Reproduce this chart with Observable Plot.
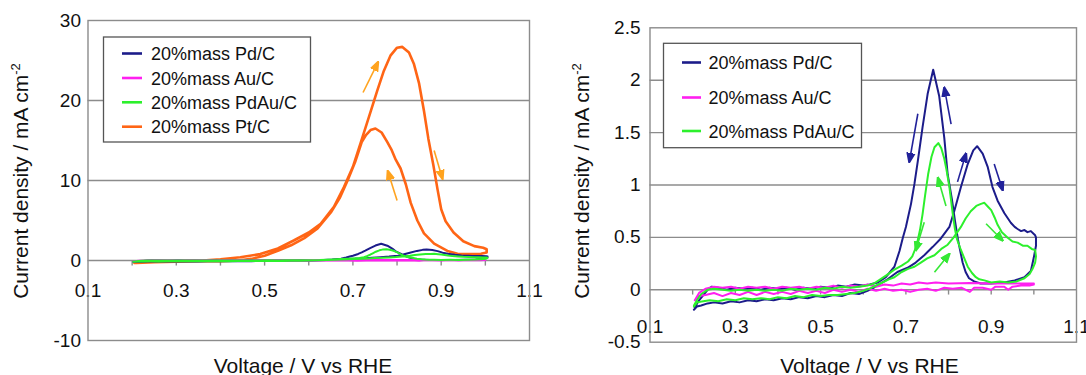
<!DOCTYPE html>
<html><head><meta charset="utf-8">
<script src="https://cdn.jsdelivr.net/npm/d3@7"></script>
<script src="https://cdn.jsdelivr.net/npm/@observablehq/plot@0.6"></script>
<style>
html,body{margin:0;padding:0;background:#fff;}
#wrap{position:relative;width:1086px;height:375px;display:flex;}
#wrap svg{display:block;}
</style></head><body><div id="wrap"></div>
<script>
// ---------- data ----------
const seriesNames = ["20%mass Pd/C", "20%mass Au/C", "20%mass PdAu/C", "20%mass Pt/C"];
const xTickValues = [0.1, 0.3, 0.5, 0.7, 0.9, 1.1];
const xTickLabels = ["0.1", "0.3", "0.5", "0.7", "0.9", "1.1"];
const xMinorTicks = [0.2, 0.3, 0.4, 0.5, 0.6, 0.7, 0.8, 0.9, 1.0];
const yTicksLeft = [-10, 0, 10, 20, 30];
const yLabelsLeft = ["-10", "0", "10", "20", "30"];
const yTicksRight = [-0.5, 0, 0.5, 1, 1.5, 2, 2.5];
const yLabelsRight = ["-0.5", "0", "0.5", "1", "1.5", "2", "2.5"];

// [voltage V, current density mA cm-2], forward scan then reverse scan
const pdC = [[0.203,-0.19],[0.21,-0.16],[0.22,-0.15],[0.235,-0.13],[0.25,-0.12],[0.27,-0.13],[0.29,-0.11],[0.31,-0.12],[0.33,-0.1],[0.35,-0.11],[0.37,-0.09],[0.39,-0.1],[0.41,-0.08],[0.43,-0.09],[0.45,-0.07],[0.47,-0.08],[0.49,-0.06],[0.51,-0.07],[0.53,-0.05],[0.55,-0.06],[0.57,-0.03],[0.59,-0.04],[0.61,-0.01],[0.625,0.02],[0.64,0.06],[0.657,0.1],[0.68,0.17],[0.704,0.21],[0.723,0.26],[0.743,0.33],[0.763,0.41],[0.782,0.49],[0.802,0.6],[0.814,0.76],[0.829,0.98],[0.845,1.2],[0.858,1.33],[0.867,1.37],[0.88,1.3],[0.892,1.17],[0.903,0.98],[0.915,0.85],[0.931,0.73],[0.946,0.64],[0.955,0.6],[0.962,0.58],[0.97,0.56],[0.978,0.57],[0.985,0.55],[0.993,0.56],[1.003,0.52],
  [1.005,0.5],[1.005,0.42],[1.0,0.31],[0.993,0.18],[0.978,0.12],[0.955,0.09],[0.93,0.07],[0.9,0.06],[0.875,0.06],[0.86,0.08],[0.848,0.11],[0.84,0.17],[0.833,0.26],[0.822,0.48],[0.815,0.66],[0.808,0.86],[0.798,1.1],[0.79,1.45],[0.778,1.85],[0.764,2.1],[0.751,1.87],[0.739,1.55],[0.728,1.23],[0.72,1.01],[0.712,0.82],[0.70,0.6],[0.693,0.5],[0.685,0.37],[0.673,0.22],[0.653,0.12],[0.634,0.07],[0.615,0.05],[0.6,0.04],[0.58,0.05],[0.56,0.03],[0.54,0.04],[0.52,0.02],[0.5,0.03],[0.48,0.01],[0.46,0.02],[0.44,0.0],[0.42,0.02],[0.4,0.01],[0.38,0.02],[0.36,0.0],[0.34,0.02],[0.32,0.01],[0.3,0.02],[0.28,0.0],[0.26,0.02],[0.245,0.03],[0.235,0.0],[0.225,-0.05],[0.215,-0.1],[0.205,-0.17]];

const auC = [[0.205,-0.1],[0.215,-0.06],[0.23,-0.05],[0.25,-0.03],[0.27,-0.06],[0.29,-0.03],[0.31,-0.05],[0.33,-0.02],[0.35,-0.05],[0.37,-0.02],[0.39,-0.04],[0.41,-0.02],[0.43,-0.04],[0.45,-0.01],[0.47,-0.03],[0.49,-0.01],[0.51,-0.03],[0.53,0.0],[0.55,-0.02],[0.57,0.0],[0.59,-0.02],[0.61,0.01],[0.63,-0.01],[0.65,0.01],[0.67,-0.01],[0.69,0.0],[0.71,-0.02],[0.73,0.0],[0.75,0.01],[0.77,-0.01],[0.79,0.02],[0.81,0.01],[0.83,0.02],[0.85,-0.02],[0.86,0.02],[0.88,0.02],[0.9,0.0],[0.91,0.03],[0.93,0.03],[0.94,0.0],[0.95,0.03],[0.97,0.04],[0.99,0.04],[1.0,0.05],
  [1.0,0.06],[0.95,0.06],[0.9,0.06],[0.85,0.065],[0.8,0.06],[0.77,0.07],[0.75,0.06],[0.73,0.07],[0.71,0.05],[0.69,0.06],[0.67,0.04],[0.65,0.05],[0.63,0.03],[0.61,0.05],[0.59,0.03],[0.57,0.04],[0.55,0.02],[0.53,0.04],[0.51,0.02],[0.49,0.03],[0.47,0.01],[0.45,0.03],[0.43,0.02],[0.41,0.03],[0.39,0.01],[0.37,0.03],[0.35,0.02],[0.33,0.03],[0.31,0.01],[0.29,0.03],[0.27,0.02],[0.25,0.03],[0.23,0.01],[0.215,-0.03],[0.205,-0.1]];

const pdAuC = [[0.203,-0.16],[0.21,-0.12],[0.225,-0.11],[0.24,-0.1],[0.26,-0.11],[0.28,-0.09],[0.3,-0.1],[0.32,-0.08],[0.34,-0.09],[0.36,-0.08],[0.38,-0.09],[0.4,-0.07],[0.42,-0.08],[0.44,-0.06],[0.46,-0.07],[0.48,-0.05],[0.5,-0.06],[0.52,-0.05],[0.54,-0.05],[0.56,-0.04],[0.58,-0.03],[0.6,-0.01],[0.62,0.02],[0.64,0.06],[0.66,0.1],[0.673,0.12],[0.69,0.17],[0.705,0.2],[0.72,0.22],[0.735,0.26],[0.75,0.3],[0.767,0.33],[0.783,0.39],[0.798,0.43],[0.812,0.5],[0.829,0.6],[0.84,0.68],[0.852,0.75],[0.865,0.8],[0.876,0.82],[0.884,0.83],[0.893,0.79],[0.9,0.76],[0.908,0.69],[0.915,0.62],[0.925,0.55],[0.938,0.5],[0.95,0.46],[0.962,0.45],[0.975,0.42],[0.985,0.42],[0.995,0.39],[1.003,0.38],
  [1.005,0.32],[1.003,0.26],[0.997,0.2],[0.99,0.15],[0.978,0.11],[0.96,0.08],[0.94,0.07],[0.92,0.08],[0.9,0.07],[0.884,0.09],[0.872,0.1],[0.864,0.12],[0.855,0.16],[0.845,0.22],[0.837,0.3],[0.829,0.38],[0.82,0.48],[0.815,0.58],[0.81,0.72],[0.802,0.98],[0.795,1.15],[0.79,1.25],[0.783,1.35],[0.776,1.4],[0.767,1.36],[0.76,1.27],[0.752,1.1],[0.745,0.9],[0.739,0.72],[0.733,0.57],[0.725,0.42],[0.715,0.32],[0.705,0.27],[0.69,0.23],[0.672,0.19],[0.655,0.14],[0.64,0.1],[0.625,0.06],[0.61,0.04],[0.59,0.03],[0.57,0.02],[0.55,0.03],[0.53,0.01],[0.51,0.02],[0.49,0.0],[0.47,0.01],[0.45,0.0],[0.43,0.01],[0.41,-0.01],[0.39,0.0],[0.37,-0.01],[0.35,0.0],[0.33,-0.01],[0.31,0.0],[0.29,-0.01],[0.27,0.0],[0.25,0.01],[0.235,0.0],[0.22,-0.04],[0.21,-0.1],[0.203,-0.15]];

const ptC = [[0.205,-0.3],[0.22,-0.25],[0.25,-0.2],[0.28,-0.15],[0.3,-0.1],[0.33,-0.05],[0.36,0.0],[0.4,0.15],[0.445,0.4],[0.49,0.8],[0.53,1.5],[0.566,2.5],[0.6,3.5],[0.627,4.6],[0.657,6.7],[0.68,9.2],[0.70,11.7],[0.717,14.6],[0.736,17.9],[0.755,21.2],[0.77,23.7],[0.785,25.6],[0.80,26.6],[0.812,26.7],[0.827,26.0],[0.838,24.6],[0.85,22.1],[0.861,18.7],[0.871,15.2],[0.882,12.0],[0.892,8.8],[0.90,6.4],[0.91,4.9],[0.928,3.5],[0.95,2.4],[0.975,1.8],[0.995,1.6],[1.003,1.4],
  [1.003,1.0],[0.99,0.85],[0.967,0.8],[0.937,0.85],[0.914,1.2],[0.884,2.1],[0.861,3.4],[0.846,5.0],[0.831,7.2],[0.82,9.5],[0.808,11.5],[0.797,12.6],[0.787,13.9],[0.778,14.8],[0.765,16.0],[0.751,16.5],[0.74,16.3],[0.73,15.7],[0.72,14.8],[0.705,12.3],[0.688,10],[0.67,7.8],[0.65,6.0],[0.62,4.0],[0.59,2.8],[0.56,1.9],[0.53,1.2],[0.5,0.6],[0.47,0.2],[0.44,0.0],[0.4,-0.1],[0.35,-0.1],[0.3,-0.15],[0.25,-0.2],[0.21,-0.3]];

// scan-direction arrows [x1, y1, x2, y2]
const arrowsPt = [[0.723,21.0,0.757,24.8],[0.80,7.5,0.779,11.2],[0.884,13.75,0.903,10.2]];
const arrowsPd = [[0.728,1.68,0.708,1.22],[0.806,1.58,0.79,1.93],[0.821,1.03,0.841,1.30],[0.907,1.2,0.927,0.95]];
const arrowsPdAu = [[0.794,0.80,0.775,1.07],[0.743,0.645,0.723,0.375],[0.767,0.168,0.802,0.343],[0.888,0.63,0.927,0.47]];

// ---------- style ----------
const C_PD = "#1c1c8a", C_AU = "#ff1ff0", C_PDAU = "#2cf02c", C_PT = "#ff6515";
const C_PT_ARROW = "#ffa31f", C_PD_ARROW = "#22229a", C_PDAU_ARROW = "#35e835";
const GRID = "#8c8c8c", TEXT = "#111";
const FONT = "'Liberation Sans', Arial, Helvetica, sans-serif";

function triMarker(color) {
  const ns = "http://www.w3.org/2000/svg";
  const m = document.createElementNS(ns, "marker");
  m.setAttribute("viewBox", "-5 -5 10 10");
  m.setAttribute("markerUnits", "userSpaceOnUse");
  m.setAttribute("markerWidth", "10");
  m.setAttribute("markerHeight", "10");
  m.setAttribute("refX", "4");
  m.setAttribute("refY", "0");
  m.setAttribute("orient", "auto");
  const p = document.createElementNS(ns, "path");
  p.setAttribute("d", "M-5,-3.8L5,0L-5,3.8Z");
  p.setAttribute("fill", color);
  m.appendChild(p);
  return m;
}

function arrowMark(data, color) {
  const opts = {x1: d => d[0], y1: d => d[1], x2: d => d[2], y2: d => d[3], stroke: color, strokeWidth: 1.6};
  try { return Plot.link(data, {...opts, markerEnd: triMarker}); }
  catch (e) { return Plot.arrow(data, {...opts, headLength: 9}); }
}

function panel(cfg) {
  const marks = [
    Plot.ruleY(cfg.grid, {stroke: GRID, strokeWidth: 1.4}),
    Plot.ruleX(xMinorTicks, {y1: 0, y2: -cfg.tickLen, stroke: GRID, strokeWidth: 1.4}),
    ...cfg.series.map(s => Plot.line(s.data, {x: d => d[0], y: d => d[1], stroke: s.color, strokeWidth: s.width, strokeLinejoin: "round"})),
    ...cfg.arrows.map(a => arrowMark(a.data, a.color)),
    Plot.text(xTickValues, {x: d => d, y: 0, text: (d, i) => xTickLabels[i], dy: cfg.xLabelDy, fontSize: 19, fill: TEXT}),
    Plot.text(cfg.yTicks, {y: d => d, frameAnchor: "left", textAnchor: "end", dx: cfg.yLabelDx, text: (d, i) => cfg.yLabels[i], fontSize: 19, fill: TEXT}),
    Plot.frame({stroke: GRID, strokeWidth: 1.4})
  ];
  const svg = Plot.plot({
    width: 543, height: 375,
    marginLeft: cfg.m[0], marginRight: cfg.m[1], marginTop: cfg.m[2], marginBottom: cfg.m[3],
    x: {domain: [0.1, 1.1], axis: null},
    y: {domain: cfg.yDomain, axis: null},
    style: {fontFamily: FONT, background: "white", overflow: "visible", color: TEXT},
    marks
  });
  const s = d3.select(svg);
  // legend
  const L = cfg.legend;
  const g = s.append("g").attr("font-family", FONT).attr("font-size", 18).attr("fill", TEXT).attr("text-anchor", "start");
  g.append("rect").attr("x", L.x).attr("y", L.y).attr("width", L.w).attr("height", L.h)
    .attr("fill", "white").attr("stroke", "#555").attr("stroke-width", 1.3);
  L.items.forEach((it, i) => {
    const yy = L.rows[i];
    g.append("line").attr("x1", L.sx1).attr("x2", L.sx2).attr("y1", yy).attr("y2", yy)
      .attr("stroke", it.color).attr("stroke-width", 2.6);
    g.append("text").attr("x", L.tx).attr("y", yy + 6.5).attr("text-anchor", "start").text(it.name);
  });
  // axis titles
  const yt = s.append("text").attr("font-family", FONT).attr("font-size", 21).attr("fill", TEXT)
    .attr("text-anchor", "middle").attr("transform", `translate(${cfg.yTitle[0]},${cfg.yTitle[1]}) rotate(-90)`);
  yt.append("tspan").text("Current density / mA cm");
  yt.append("tspan").attr("font-size", 13).attr("dy", -8).text("-2");
  s.append("text").attr("font-family", FONT).attr("font-size", 21).attr("fill", TEXT)
    .attr("text-anchor", "middle").attr("x", cfg.xTitle[0]).attr("y", cfg.xTitle[1]).text("Voltage / V vs RHE");
  return svg;
}

const wrap = document.getElementById("wrap");

wrap.appendChild(panel({
  m: [87.5, 14, 20, 35],
  yDomain: [-10, 30], yTicks: yTicksLeft, yLabels: yLabelsLeft,
  grid: [0, 10, 20], tickLen: 0.7, xLabelDy: 30, yLabelDx: -7,
  series: [
    {data: ptC, color: C_PT, width: 2.6},
    {data: pdC, color: C_PD, width: 2},
    {data: auC, color: C_AU, width: 2},
    {data: pdAuC, color: C_PDAU, width: 2}
  ],
  arrows: [{data: arrowsPt, color: C_PT_ARROW}],
  legend: {x: 103.5, y: 37, w: 207, h: 105, sx1: 122, sx2: 142, tx: 151, rows: [53.5, 78, 102.3, 126.7],
    items: [
      {name: seriesNames[0], color: C_PD}, {name: seriesNames[1], color: C_AU},
      {name: seriesNames[2], color: C_PDAU}, {name: seriesNames[3], color: C_PT}]},
  yTitle: [27.5, 181], xTitle: [303, 372.5]
}));

wrap.appendChild(panel({
  m: [106.5, 10, 27.3, 33.3],
  yDomain: [-0.5, 2.5], yTicks: yTicksRight, yLabels: yLabelsRight,
  grid: [0, 0.5, 1, 1.5, 2], tickLen: 0.05, xLabelDy: 37.5, yLabelDx: -9.5,
  series: [
    {data: pdC, color: C_PD, width: 2},
    {data: auC, color: C_AU, width: 2},
    {data: pdAuC, color: C_PDAU, width: 2}
  ],
  arrows: [{data: arrowsPd, color: C_PD_ARROW}, {data: arrowsPdAu, color: C_PDAU_ARROW}],
  legend: {x: 120.5, y: 43.3, w: 198, h: 104.4, sx1: 139, sx2: 158, tx: 165.5, rows: [62.5, 97.5, 131],
    items: [
      {name: seriesNames[0], color: C_PD}, {name: seriesNames[1], color: C_AU},
      {name: seriesNames[2], color: C_PDAU}]},
  yTitle: [46, 181], xTitle: [326.5, 372.5]
}));
</script></body></html>
